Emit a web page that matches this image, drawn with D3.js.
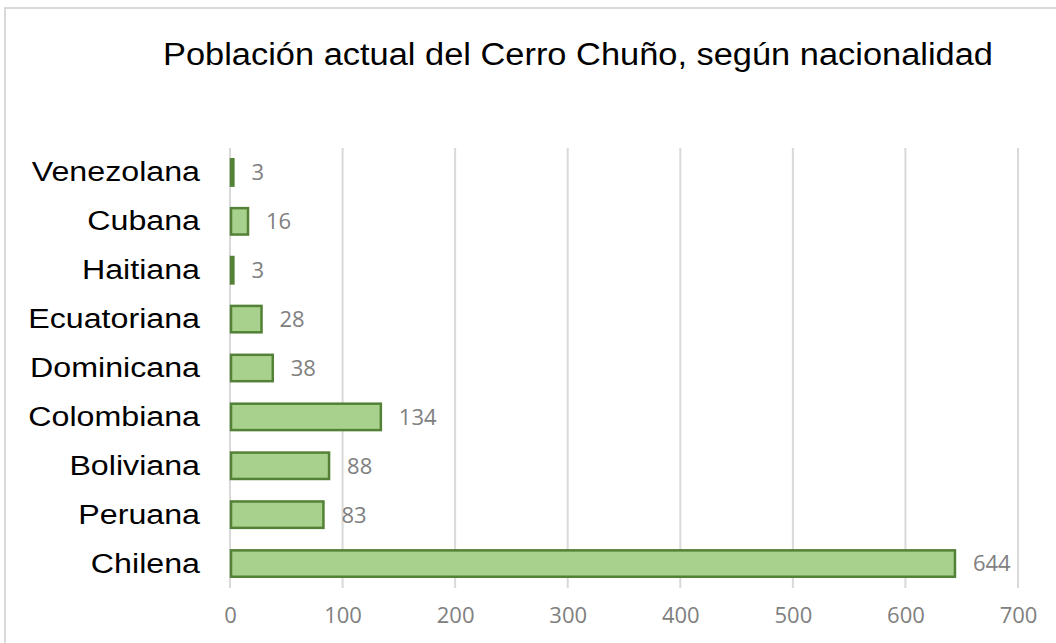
<!DOCTYPE html>
<html>
<head>
<meta charset="utf-8">
<script src="https://cdn.jsdelivr.net/npm/d3@7"></script>
<style>
  body { margin: 0; background: #fff; }
</style>
</head>
<body>
<div id="chart"></div>
<script>
// data, top to bottom as shown
var categories = ['Venezolana', 'Cubana', 'Haitiana', 'Ecuatoriana', 'Dominicana', 'Colombiana', 'Boliviana', 'Peruana', 'Chilena'];
var values = [3, 16, 3, 28, 38, 134, 88, 83, 644];
var xTicks = [0, 100, 200, 300, 400, 500, 600, 700];
var title = 'Población actual del Cerro Chuño, según nacionalidad';

var W = 1056, H = 643;
var margin = {top: 148, right: 38, bottom: 55, left: 230};

var svg = d3.select('#chart').append('svg')
  .attr('width', W)
  .attr('height', H);

// chart frame
svg.append('rect')
  .attr('x', 5).attr('y', 8)
  .attr('width', W + 10).attr('height', H + 10)
  .attr('fill', 'none')
  .attr('stroke', '#d9d9d9')
  .attr('stroke-width', 2);

svg.append('text')
  .attr('x', 578).attr('y', 65)
  .attr('text-anchor', 'middle')
  .attr('textLength', 830)
  .attr('lengthAdjust', 'spacingAndGlyphs')
  .style('font-family', 'Liberation Sans, Arial, sans-serif')
  .style('font-size', '31px')
  .attr('fill', '#000')
  .text(title);

var g = svg.append('g')
  .attr('transform', `translate(${margin.left},${margin.top})`);

var x = d3.scaleLinear().domain([0, 700]).range([0, 788]);
var y = d3.scaleBand().domain(categories).range([0, 440]).paddingInner(0.46).paddingOuter(0.23);

// gridlines
g.selectAll('.grid')
  .data(xTicks)
  .enter().append('line')
  .attr('class', 'grid')
  .attr('x1', d => x(d)).attr('x2', d => x(d))
  .attr('y1', 0).attr('y2', 440)
  .attr('stroke', '#d9d9d9')
  .attr('stroke-width', 2);

// x axis labels
var xAxis = g.append('g')
  .attr('transform', 'translate(0,440)')
  .call(d3.axisBottom(x).tickValues(xTicks).tickSize(0).tickPadding(19));
xAxis.select('.domain').remove();
xAxis.selectAll('text')
  .style('font-family', 'Open Sans, Lato, sans-serif')
  .style('font-size', '22px')
  .attr('fill', '#808080');

// category labels, a bit wider than the font draws them
var sx = 1.15;
var yAxis = g.append('g')
  .call(d3.axisLeft(y).tickSize(0));
yAxis.select('.domain').remove();
yAxis.selectAll('text')
  .attr('x', -30 / sx)
  .attr('transform', `scale(${sx},1)`)
  .style('font-family', 'Liberation Sans, Arial, sans-serif')
  .style('font-size', '28px')
  .attr('fill', '#000');

// bars
g.selectAll('.bar')
  .data(values)
  .enter().append('rect')
  .attr('class', 'bar')
  .attr('x', x(0) + 1)
  .attr('y', (d, i) => y(categories[i]))
  .attr('width', d => Math.max(x(d) - x(0) - 1, 1))
  .attr('height', y.bandwidth())
  .attr('fill', '#a9d18e')
  .attr('stroke', '#538135')
  .attr('stroke-width', 2.5);

// value labels
g.selectAll('.val')
  .data(values)
  .enter().append('text')
  .attr('class', 'val')
  .attr('x', d => x(d) + 18)
  .attr('y', (d, i) => y(categories[i]) + y.bandwidth() / 2)
  .attr('dy', '0.36em')
  .style('font-family', 'Open Sans, Lato, sans-serif')
  .style('font-size', '22px')
  .attr('fill', '#808080')
  .text(d => d);
</script>
</body>
</html>
